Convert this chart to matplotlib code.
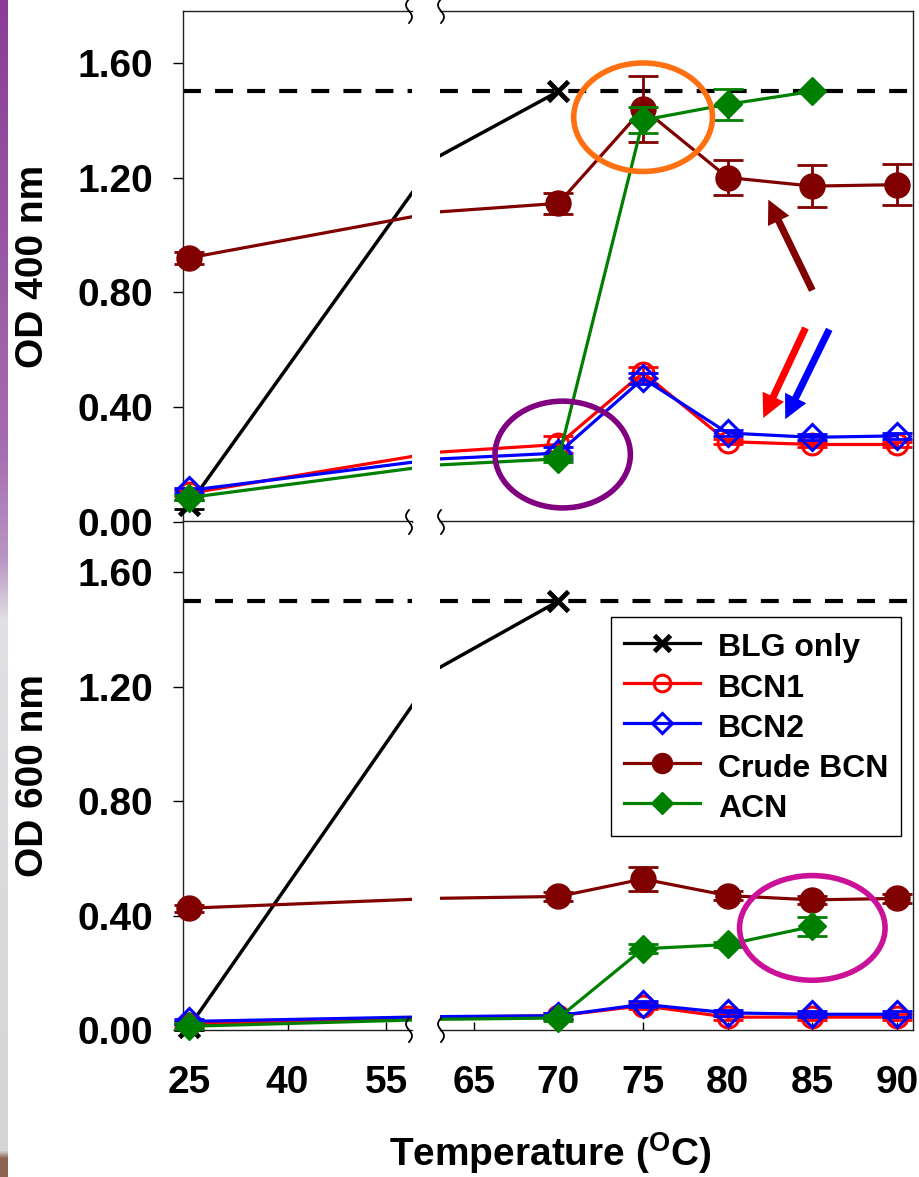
import numpy as np
import matplotlib
matplotlib.use('Agg')
import matplotlib.pyplot as plt
from matplotlib.lines import Line2D
from matplotlib.patches import Ellipse

plt.rcParams['font.family'] = ['Liberation Sans', 'DejaVu Sans']
plt.rcParams['font.weight'] = 'bold'
plt.rcParams['mathtext.fontset'] = 'custom'
plt.rcParams['mathtext.rm'] = 'Liberation Sans:bold'
plt.rcParams['mathtext.bf'] = 'Liberation Sans:bold'

### DATA
temps = [25, 70, 75, 80, 85, 90]
blg_temps = [25, 70]
acn_temps = [25, 70, 75, 80, 85]

# OD 400 nm
blg_400 = [0.06, 1.50]
bcn1_400 = [0.10, 0.27, 0.52, 0.28, 0.27, 0.27]
bcn2_400 = [0.11, 0.24, 0.50, 0.31, 0.295, 0.30]
crude_400 = [0.92, 1.11, 1.44, 1.20, 1.17, 1.175]
acn_400 = [0.085, 0.22, 1.40, 1.455, 1.50]

blg_400_err = [0.015, 0.0]
bcn1_400_err = [0.01, 0.03, 0.02, 0.01, 0.01, 0.01]
bcn2_400_err = [0.01, 0.02, 0.02, 0.01, 0.01, 0.01]
crude_400_err = [0.02, 0.037, 0.115, 0.06, 0.073, 0.072]
acn_400_err = [0.01, 0.01, 0.045, 0.054, 0.0]

# OD 600 nm
blg_600 = [0.01, 1.50]
bcn1_600 = [0.02, 0.05, 0.085, 0.045, 0.045, 0.045]
bcn2_600 = [0.03, 0.05, 0.09, 0.06, 0.055, 0.055]
crude_600 = [0.426, 0.467, 0.528, 0.47, 0.455, 0.46]
acn_600 = [0.013, 0.042, 0.284, 0.299, 0.362]

blg_600_err = [0.01, 0.0]
bcn1_600_err = [0.01, 0.01, 0.01, 0.01, 0.01, 0.01]
bcn2_600_err = [0.01, 0.01, 0.01, 0.01, 0.01, 0.01]
crude_600_err = [0.012, 0.015, 0.042, 0.015, 0.015, 0.015]
acn_600_err = [0.01, 0.01, 0.015, 0.01, 0.033]

saturation = 1.50

names = ['BLG only', 'BCN1', 'BCN2', 'Crude BCN', 'ACN']
xvals = [blg_temps, temps, temps, temps, acn_temps]
panel_400 = [(blg_400, blg_400_err), (bcn1_400, bcn1_400_err), (bcn2_400, bcn2_400_err),
             (crude_400, crude_400_err), (acn_400, acn_400_err)]
panel_600 = [(blg_600, blg_600_err), (bcn1_600, bcn1_600_err), (bcn2_600, bcn2_600_err),
             (crude_600, crude_600_err), (acn_600, acn_600_err)]

styles = {
    'BLG only': dict(color='black', marker='x', ms=15, mew=3.5, mfc='black', lw=2.5),
    'BCN1': dict(color='#ff0000', marker='o', ms=15, mew=2.2, mfc='none', lw=2.3),
    'BCN2': dict(color='#0000ff', marker='D', ms=13, mew=2.2, mfc='none', lw=2.3),
    'Crude BCN': dict(color='#800000', marker='o', ms=18, mew=1, mfc='#800000', lw=2.3),
    'ACN': dict(color='#008000', marker='D', ms=14.5, mew=1, mfc='#008000', lw=2.3),
}

### FIGURE / AXES
W, H = 920, 1177
fig = plt.figure(figsize=(W / 100, H / 100), dpi=100)

def box(x0, x1, y0, y1):
    return [x0 / W, 1 - y1 / H, (x1 - x0) / W, (y1 - y0) / H]

# gradient strip of the slide background on the far left
bg = fig.add_axes([0, 0, 8 / W, 1], zorder=-10)
stops_y = [0, 450, 560, 620, 1150, 1158, 1177]
stops_c = [(138, 60, 150), (165, 110, 175), (185, 150, 195), (226, 224, 228),
           (212, 212, 214), (140, 100, 80), (140, 100, 80)]
ys = np.arange(H)
grad = np.stack([np.interp(ys, stops_y, [c[k] for c in stops_c]) for k in range(3)], axis=-1) / 255
bg.imshow(grad[:, None, :], aspect='auto', extent=[0, 1, H, 0])
bg.axis('off')

xlim_l = (24.09, 58.94)
xlim_r = (63.0, 90.95)
ylim = (0, 1.78)

ax_tl = fig.add_axes(box(183, 412, 11, 522))
ax_tr = fig.add_axes(box(440, 913, 11, 522))
ax_bl = fig.add_axes(box(183, 412, 521, 1030))
ax_br = fig.add_axes(box(440, 913, 521, 1030))

def draw_panel(ax, panel, xlim, z0=3):
    ax.axhline(saturation, color='black', lw=3, ls=(0, (4.3, 3.4)), zorder=2)
    for i, (name, x, (y, e)) in enumerate(zip(names, xvals, panel)):
        st = styles[name]
        z = z0 + i
        ax.plot(x, y, color=st['color'], lw=st['lw'], zorder=z)
        pts = [(xi, yi, ei) for xi, yi, ei in zip(x, y, e) if xlim[0] <= xi <= xlim[1]]
        if not pts:
            continue
        xs, yy, es = zip(*pts)
        ep = [(xi, yi, ei) for xi, yi, ei in pts if ei > 0]
        if ep:
            ex, ey, ee = zip(*ep)
            cont = ax.errorbar(ex, ey, yerr=ee, fmt='none', ecolor=st['color'],
                               elinewidth=2, capsize=11, capthick=2, zorder=z + 0.2)
            for art in list(cont.lines[1]) + list(cont.lines[2]):
                art.set_clip_on(False)
        ax.plot(xs, yy, ls='none', marker=st['marker'], ms=st['ms'], mew=st['mew'],
                mfc=st['mfc'], mec=st['color'], zorder=z + 0.5, clip_on=False)
    ax.set_xlim(*xlim)
    ax.set_ylim(*ylim)

draw_panel(ax_tl, panel_400, xlim_l)
draw_panel(ax_tr, panel_400, xlim_r)
draw_panel(ax_bl, panel_600, xlim_l)
draw_panel(ax_br, panel_600, xlim_r)

yticks = [0.0, 0.4, 0.8, 1.2, 1.6]
for ax in (ax_tl, ax_bl):
    ax.spines['right'].set_visible(False)
    ax.set_yticks(yticks)
    ax.set_yticklabels([f'{v:.2f}' for v in yticks])
    ax.tick_params(axis='y', direction='out', length=7.5, width=1, pad=14, labelsize=28)
for ax in (ax_tr, ax_br):
    ax.spines['left'].set_visible(False)
    ax.set_yticks([])
for ax in (ax_tl, ax_tr, ax_bl, ax_br):
    for sp in ax.spines.values():
        sp.set_linewidth(1.0)
        sp.set_color('#202020')
for ax in (ax_tl, ax_tr):
    ax.set_xticks([])
ax_bl.set_xticks([25, 40, 55])
ax_br.set_xticks([65, 70, 75, 80, 85, 90])
for ax in (ax_bl, ax_br):
    ax.tick_params(axis='x', direction='in', length=6, width=1, pad=25.5, labelsize=28)

# axis break marks
def squiggle(xpx, ypx):
    s = np.linspace(-1, 1, 40)
    dy = 12 * s
    dx = -3 * np.sin(np.pi * s)
    fig.add_artist(Line2D((xpx + dx) / W, 1 - (ypx - dy) / H, color='black', lw=1.3,
                          transform=fig.transFigure, zorder=30))

for ypx in (11, 522, 1030):
    squiggle(409, ypx)
    squiggle(441, ypx)

# annotations
ax_tr.add_patch(Ellipse((75.0, 1.41), 8.2, 0.378, fill=False, ec='#ff7010', lw=4,
                        zorder=20, clip_on=False))
ax_tr.add_patch(Ellipse((70.25, 0.235), 8.0, 0.372, fill=False, ec='#800080', lw=4,
                        zorder=20, clip_on=False))
ax_br.add_patch(Ellipse((85.0, 0.357), 8.6, 0.366, fill=False, ec='#cc1199', lw=4,
                        zorder=20, clip_on=False))

arrow_style = 'simple,head_width=1.0,head_length=1.0,tail_width=0.3'
for tail, tip, col in [((85.0, 0.807), (82.4, 1.123), '#800000'),
                       ((84.6, 0.676), (82.1, 0.362), '#ff0000'),
                       ((86.0, 0.671), (83.4, 0.358), '#0000ff')]:
    ax_tr.annotate('', xy=tip, xytext=tail,
                   arrowprops=dict(arrowstyle=arrow_style, mutation_scale=17, color=col,
                                   lw=0, shrinkA=0, shrinkB=0), zorder=21)

# legend
handles = []
for name in names:
    st = styles[name]
    handles.append(Line2D([0], [0], color=st['color'], lw=2.3, marker=st['marker'],
                          ms=st['ms'] * 0.8, mew=st['mew'], mfc=st['mfc'], mec=st['color']))
leg = ax_br.legend(handles, names, loc='upper left', bbox_to_anchor=(611 / W, 1 - 617 / H),
                   bbox_transform=fig.transFigure, fontsize=23, frameon=True, fancybox=False,
                   edgecolor='black', framealpha=1, handlelength=2.4, handletextpad=0.55,
                   handleheight=1.15, labelspacing=0.2, borderpad=0.4, borderaxespad=0)
leg.get_frame().set_linewidth(1.0)
leg.set_zorder(25)

# axis labels
fig.text(33 / W, 1 - 266 / H, 'OD 400 nm', rotation=90, ha='center', va='center', fontsize=28)
fig.text(33 / W, 1 - 776 / H, 'OD 600 nm', rotation=90, ha='center', va='center', fontsize=28)
fig.text(550 / W, 1 - 1153 / H, r'Temperature ($^{\mathrm{O}}$C)', ha='center', va='center',
         fontsize=28)

fig.savefig('out.png', dpi=100)
